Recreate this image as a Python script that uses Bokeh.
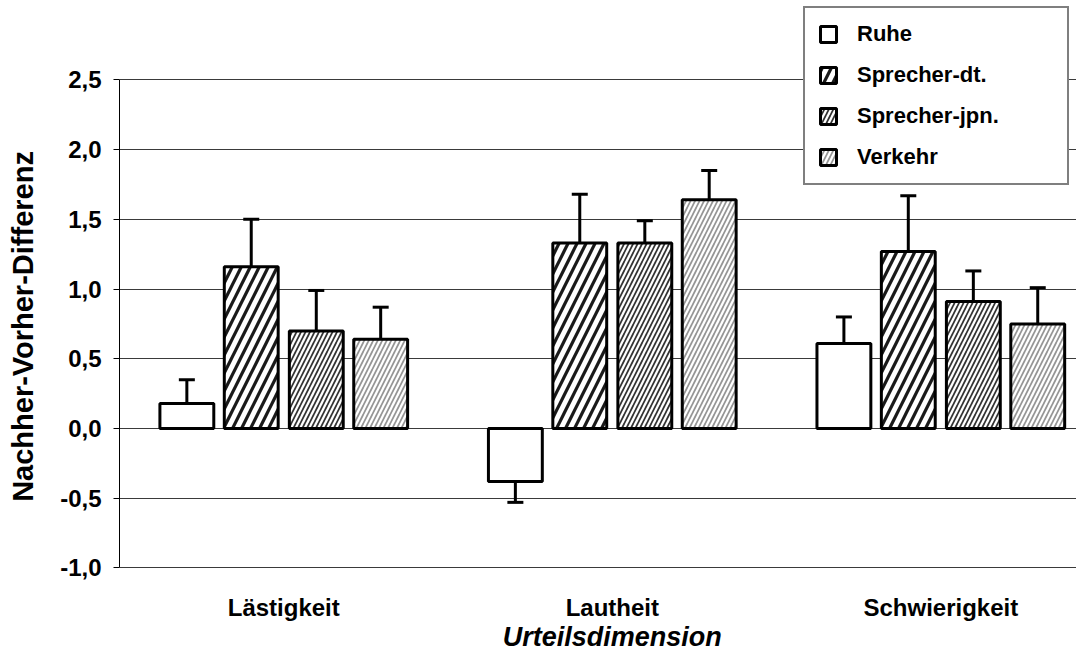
from bokeh.plotting import figure
from bokeh.models import (ColumnDataSource, Range1d, FixedTicker, Whisker, TeeHead,
                          Legend, LegendItem, LabelSet, Label)
from bokeh.core.properties import value
from bokeh.transform import dodge
from bokeh.embed import file_html
from bokeh.resources import INLINE

# ---- data ----
categories = ["Lästigkeit", "Lautheit", "Schwierigkeit"]
series_names = ["Ruhe", "Sprecher-dt.", "Sprecher-jpn.", "Verkehr"]
ruhe = [0.18, -0.38, 0.61]
ruhe_err = [0.17, 0.15, 0.19]
sprecher_dt = [1.16, 1.33, 1.27]
sprecher_dt_err = [0.34, 0.35, 0.40]
sprecher_jpn = [0.70, 1.33, 0.91]
sprecher_jpn_err = [0.29, 0.16, 0.22]
verkehr = [0.64, 1.64, 0.75]
verkehr_err = [0.23, 0.21, 0.26]
y_ticks = [-1.0, -0.5, 0.0, 0.5, 1.0, 1.5, 2.0, 2.5]
y_tick_labels = ["-1,0", "-0,5", "0,0", "0,5", "1,0", "1,5", "2,0", "2,5"]
x_title = "Urteilsdimension"
y_title = "Nachher-Vorher-Differenz"

values = [ruhe, sprecher_dt, sprecher_jpn, verkehr]
errors = [ruhe_err, sprecher_dt_err, sprecher_jpn_err, verkehr_err]

FONT = "Liberation Sans"

# frame spans the whole figure height
p = figure(width=1076, height=652, output_backend="svg", toolbar_location=None,
           x_range=Range1d(0, 2.913), y_range=Range1d(-1.607, 3.070),
           min_border_top=0, min_border_bottom=0, min_border_right=0,
           min_border_left=119)
p.outline_line_color = None
p.background_fill_color = "white"
p.border_fill_color = "white"

centers = [i + 0.5 for i in range(len(categories))]
offsets = [-0.295, -0.099, 0.099, 0.295]
bar_w = 0.164

hatches = [
    None,
    dict(hatch_pattern="/", hatch_scale=18, hatch_weight=3.2, hatch_color="#1a1a1a"),
    dict(hatch_pattern="/", hatch_scale=9, hatch_weight=1.7, hatch_color="#333333"),
    dict(hatch_pattern="/", hatch_scale=9, hatch_weight=1.7, hatch_color="#959595"),
]

items = []
for name, vals, errs, off, h in zip(series_names, values, errors, offsets, hatches):
    upper = [v + (err if v >= 0 else -err) for v, err in zip(vals, errs)]
    src = ColumnDataSource(dict(x=centers, top=vals, upper=upper))
    w = Whisker(base=dodge("x", off, range=p.x_range), lower="top", upper="upper",
                source=src, dimension="height", line_width=3, line_color="black",
                lower_head=None,
                upper_head=TeeHead(size=16, line_width=3, line_color="black"))
    p.add_layout(w)
    kw = h if h is not None else {}
    r = p.vbar(x=dodge("x", off, range=p.x_range), top="top", bottom=0, width=bar_w,
               source=src, fill_color="white", line_color="black", line_width=3, **kw)
    items.append(LegendItem(label=name, renderers=[r]))

# grid
p.xgrid.grid_line_color = None
p.ygrid.ticker = FixedTicker(ticks=y_ticks)
p.ygrid.grid_line_color = "#3a3a3a"
p.ygrid.grid_line_width = 1

# y axis
ya = p.yaxis[0]
ya.ticker = FixedTicker(ticks=y_ticks)
ya.bounds = (-1.0, 2.5)
ya.major_label_overrides = {t: l for t, l in zip(y_ticks, y_tick_labels)}
ya.major_label_text_font = FONT
ya.major_label_text_font_style = "bold"
ya.major_label_text_font_size = "24px"
ya.major_label_text_color = "black"
ya.major_label_standoff = 12
ya.major_tick_out = 6
ya.major_tick_in = 0
ya.minor_tick_line_color = None
ya.axis_line_color = "black"
ya.axis_line_width = 1
ya.major_tick_line_color = "black"
ya.axis_label = y_title
ya.axis_label_text_font = FONT
ya.axis_label_text_font_style = "bold"
ya.axis_label_text_font_size = "29px"
ya.axis_label_text_color = "black"
ya.axis_label_standoff = 18

# x axis: category names and title set under the -1,0 line
p.xaxis.visible = False
cat_src = ColumnDataSource(dict(x=centers, y=[-1.285] * len(categories), text=categories))
p.add_layout(LabelSet(x="x", y="y", text="text", source=cat_src,
                      text_align="center", text_baseline="middle",
                      text_font=value(FONT), text_font_style="bold",
                      text_font_size="24px", text_color="black"))
p.add_layout(Label(x=1.5, y=-1.495, text=x_title, text_align="center",
                   text_baseline="middle", text_font=FONT,
                   text_font_style="bold italic", text_font_size="27px",
                   text_color="black"))

legend = Legend(items=items, location=(684, 467), margin=0, padding=13, spacing=15,
                glyph_width=20, glyph_height=20, label_height=20, label_width=197,
                label_standoff=19, label_text_font=FONT, label_text_font_style="bold",
                label_text_font_size="22px", label_text_color="black",
                border_line_color="black", border_line_width=2,
                background_fill_color="white", background_fill_alpha=1.0)
p.add_layout(legend, "center")

open("out.html", "w").write(file_html(p, INLINE))
